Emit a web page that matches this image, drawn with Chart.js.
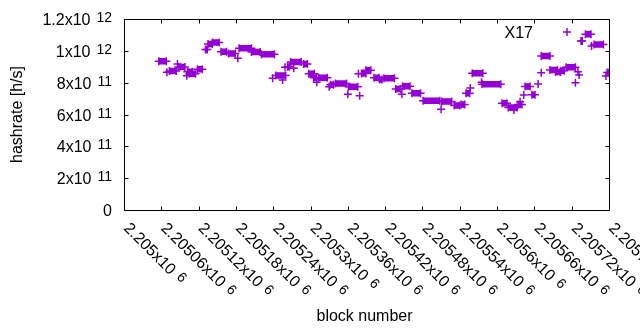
<!DOCTYPE html>
<html>
<head>
<meta charset="utf-8">
<script src="https://cdn.jsdelivr.net/npm/chart.js@4.4.1/dist/chart.umd.min.js"></script>
<style>
body{margin:0;background:#fff}
</style>
</head>
<body>
<canvas id="c" width="640" height="330"></canvas>
<script>
// each run of blocks sharing one hashrate value (start == end for a single block)
const segStart = [2205056,2205069,2205073,2205086,2205087,2205101,2205102,2205105,2205118,2205131,
    2205135,2205142,2205156,2205168,2205183,2205185,2205205,2205221,2205239,2205244,
    2205255,2205259,2205263,2205268,2205273,2205289,2205297,2205305,2205310,2205313,
    2205330,2205332,2205340,2205360,2205361,2205377,2205379,2205382,2205389,2205402,
    2205411,2205418,2205437,2205447,2205448,2205463,2205481,2205510,2205511,2205531,
    2205542,2205550,2205557,2205560,2205575,2205576,2205608,2205618,2205627,2205634,
    2205637,2205643,2205645,2205656,2205666,2205671,2205671,2205685,2205694,2205702,
    2205711,2205726,2205730,2205732,2205735,2205742,2205752,2205756,2205775,2205777];
const segEnd = [2205068,2205069,2205084,2205086,2205098,2205101,2205110,2205115,2205126,2205134,
    2205142,2205153,2205165,2205179,2205183,2205205,2205219,2205242,2205239,2205260,
    2205255,2205259,2205266,2205285,2205273,2205295,2205306,2205310,2205310,2205327,
    2205330,2205337,2205358,2205360,2205376,2205377,2205379,2205389,2205397,2205410,
    2205415,2205435,2205445,2205447,2205460,2205477,2205508,2205510,2205527,2205540,
    2205548,2205556,2205557,2205577,2205575,2205606,2205616,2205632,2205627,2205640,
    2205637,2205643,2205653,2205661,2205666,2205671,2205685,2205697,2205702,2205708,
    2205726,2205726,2205730,2205732,2205737,2205751,2205752,2205771,2205775,2205780];
const hashrate = [9.34e11,8.65e11,8.73e11,9.17e11,8.98e11,8.44e11,8.69e11,8.56e11,8.84e11,10.08e11,
    10.43e11,10.52e11,9.95e11,9.84e11,9.53e11,10.16e11,9.93e11,9.78e11,8.27e11,8.45e11,
    8.17e11,8.97e11,9.00e11,9.30e11,8.90e11,9.17e11,8.56e11,8.31e11,8.02e11,8.31e11,
    7.75e11,7.87e11,7.95e11,7.27e11,7.75e11,8.56e11,7.18e11,8.57e11,8.78e11,8.31e11,
    8.20e11,8.27e11,7.60e11,7.27e11,7.78e11,7.33e11,6.86e11,6.33e11,6.82e11,6.57e11,
    6.63e11,7.33e11,7.66e11,8.59e11,8.02e11,7.90e11,6.70e11,6.44e11,6.28e11,6.63e11,
    6.80e11,7.22e11,7.76e11,7.24e11,7.92e11,8.63e11,9.68e11,8.80e11,8.67e11,8.75e11,
    8.97e11,8.00e11,8.69e11,8.48e11,10.62e11,11.04e11,10.30e11,10.40e11,8.42e11,8.64e11];

const xTicks = [2205000,2205060,2205120,2205180,2205240,2205300,2205360,2205420,2205480,2205540,2205600,2205660,2205720,2205780];
const yTicks = [0,2e11,4e11,6e11,8e11,1e12,1.2e12];
const keyLabel = "X17";
const xTitle = "block number";
const yTitle = "hashrate [h/s]";

const purple = "#9400d3";
const font = '16px "Liberation Sans", Arial, sans-serif';
const supFont = '14px "Liberation Sans", Arial, sans-serif';

const points = [];
for (let i = 0; i < segStart.length; i++) {
    points.push({x: segStart[i], y: hashrate[i]});
    if (segEnd[i] > segStart[i]) points.push({x: segEnd[i], y: hashrate[i]});
    points.push({x: segEnd[i], y: null});
}

// split 8e11 into ["8x10","11"] the way gnuplot prints it
function sciParts(v, exp) {
    if (v === 0) return ["0", ""];
    if (exp === undefined) exp = Math.floor(Math.log10(v) + 1e-9);
    const m = +(v / Math.pow(10, exp)).toFixed(5);
    return [m + "x10", String(exp)];
}

function supText(ctx, parts, x, y, align) {
    ctx.font = font;
    const mw = ctx.measureText(parts[0]).width;
    ctx.font = supFont;
    const sw = parts[1] ? ctx.measureText(parts[1]).width : 0;
    const gap = parts[1] ? 6 : 0;
    const x0 = align === "right" ? x - mw - gap - sw : x;
    ctx.textAlign = "left";
    ctx.textBaseline = "alphabetic";
    ctx.font = font;
    ctx.fillText(parts[0], x0, y);
    if (parts[1]) {
        ctx.font = supFont;
        ctx.fillText(parts[1], x0 + mw + gap, y - 3);
    }
}

const gnuplotFrame = {
    id: "gnuplotFrame",
    afterDraw(chart) {
        const ctx = chart.ctx;
        const a = chart.chartArea;
        const xs = chart.scales.x, ys = chart.scales.y;
        const L = Math.round(a.left) + 0.5, R = Math.round(a.right) + 0.5;
        const T = Math.round(a.top) + 0.5, B = Math.round(a.bottom) + 0.5;
        ctx.save();
        ctx.strokeStyle = "#000";
        ctx.lineWidth = 1;
        ctx.beginPath();
        ctx.rect(L, T, R - L, B - T);
        xTicks.forEach(v => {
            const px = Math.round(xs.getPixelForValue(v)) + 0.5;
            ctx.moveTo(px, B); ctx.lineTo(px, B - 4);
            ctx.moveTo(px, T); ctx.lineTo(px, T + 4);
        });
        yTicks.forEach(v => {
            const py = Math.round(ys.getPixelForValue(v)) + 0.5;
            ctx.moveTo(L, py); ctx.lineTo(L + 4, py);
            ctx.moveTo(R, py); ctx.lineTo(R - 4, py);
        });
        ctx.stroke();

        ctx.fillStyle = "#000";
        yTicks.forEach(v => {
            const py = ys.getPixelForValue(v);
            supText(ctx, sciParts(v), a.left - 12, py + 6, "right");
        });
        xTicks.forEach(v => {
            const px = xs.getPixelForValue(v);
            ctx.save();
            ctx.translate(px - 1, a.bottom + 19);
            ctx.rotate(Math.PI / 4);
            supText(ctx, sciParts(v, 6), 0, 0, "left");
            ctx.restore();
        });

        ctx.font = font;
        ctx.textAlign = "center";
        ctx.textBaseline = "alphabetic";
        ctx.fillText(xTitle, (a.left + a.right) / 2 - 2, 321);
        ctx.save();
        ctx.translate(22, (a.top + a.bottom) / 2);
        ctx.rotate(-Math.PI / 2);
        ctx.fillText(yTitle, 0, 0);
        ctx.restore();

        // key
        ctx.textAlign = "right";
        ctx.fillText(keyLabel, a.right - 76, a.top + 19);
        const kx = a.right - 42, ky = a.top + 13;
        ctx.strokeStyle = purple;
        ctx.lineWidth = 1.5;
        ctx.beginPath();
        ctx.moveTo(kx - 4, ky); ctx.lineTo(kx + 4, ky);
        ctx.moveTo(kx, ky - 4); ctx.lineTo(kx, ky + 4);
        ctx.stroke();
        ctx.restore();
    }
};

new Chart(document.getElementById("c"), {
    type: "scatter",
    data: {
        datasets: [{
            label: keyLabel,
            data: points,
            showLine: true,
            spanGaps: false,
            borderColor: purple,
            borderWidth: 6.5,
            borderCapStyle: "butt",
            pointStyle: "cross",
            pointRadius: 4,
            pointBorderWidth: 1.5,
            pointBorderColor: purple,
            pointBackgroundColor: purple
        }]
    },
    options: {
        responsive: false,
        animation: false,
        devicePixelRatio: 1,
        layout: { padding: { left: 124, right: 31, top: 19, bottom: 120 } },
        plugins: { legend: { display: false }, tooltip: { enabled: false } },
        scales: {
            x: { type: "linear", display: false, min: 2205000, max: 2205780 },
            y: { type: "linear", display: false, min: 0, max: 1.2e12 }
        }
    },
    plugins: [gnuplotFrame]
});
</script>
</body>
</html>
